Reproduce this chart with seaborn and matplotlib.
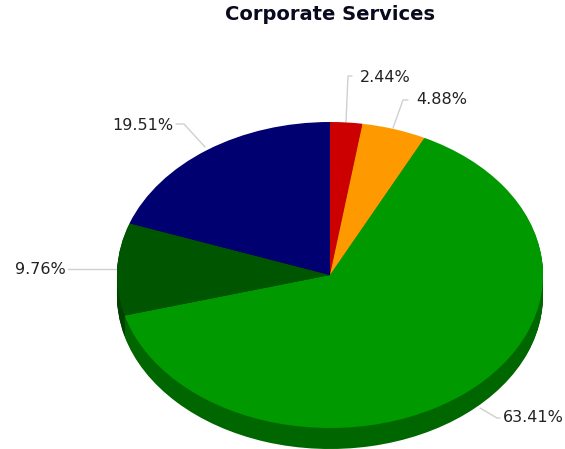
import matplotlib
matplotlib.use("Agg")
import matplotlib.pyplot as plt
import seaborn as sns
import numpy as np

sns.set_theme(style="white")

# slices clockwise from 12 o'clock
counts = [1, 2, 26, 4, 8]
labels = ["2.44%", "4.88%", "63.41%", "9.76%", "19.51%"]
top_colors = ["#CC0000", "#FF9900", "#009900", "#005500", "#000070"]
side_colors = ["#880000", "#AA6600", "#006600", "#004000", "#00004A"]

W, H = 565, 449
CX, CY, RX, RY, DEPTH = 330, 275, 213, 153, 21


def px(x, y):
    """Pixel position in the picture -> data coords of the unit pie."""
    return (x - CX) / RX, (CY - y) / RY


fig, ax = plt.subplots(figsize=(W / 100, H / 100), dpi=100)
fig.subplots_adjust(left=0, right=1, bottom=0, top=1)

# side of the disc, stacked copies of the pie going up to the top face
for off in np.linspace(DEPTH, 1, DEPTH):
    ax.pie(counts, colors=sns.color_palette(side_colors), startangle=90,
           counterclock=False, center=(0, -off / RY), radius=1,
           wedgeprops={"linewidth": 0})

wedges, _ = ax.pie(counts, colors=sns.color_palette(top_colors), startangle=90,
                   counterclock=False, center=(0, 0), radius=1,
                   wedgeprops={"linewidth": 0})

ax.set_aspect("auto")
ax.set_xlim(px(0, 0)[0], px(W, 0)[0])
ax.set_ylim(px(0, H)[1], px(0, 0)[1])
ax.axis("off")

# leader lines: edge of pie -> elbow -> end, then the label
leaders = [
    [(346, 122), (348, 76), (352, 76)],
    [(393, 128), (403, 100), (408, 100)],
    [(480, 408), (497, 418), (500, 418)],
    [(117, 269), (90, 269), (68, 269)],
    [(205, 147), (184, 124), (176, 124)],
]
label_pos = [(360, 77, "left"), (416, 100, "left"), (503, 418, "left"),
             (66, 269, "right"), (173, 125, "right")]

for line, (lx, ly, ha), text in zip(leaders, label_pos, labels):
    xs, ys = zip(*[px(*p) for p in line])
    ax.plot(xs, ys, color="#D0D0D0", lw=1, zorder=0)
    tx, ty = px(lx, ly)
    ax.text(tx, ty, text, ha=ha, va="center", fontsize=11.5, color="#222222",
            family="DejaVu Sans")

tx, ty = px(330, 15)
ax.text(tx, ty, "Corporate Services", ha="center", va="center", fontsize=14,
        fontweight="bold", color="#0A0A1E", family="DejaVu Sans")

fig.savefig("out.png", dpi=100)
